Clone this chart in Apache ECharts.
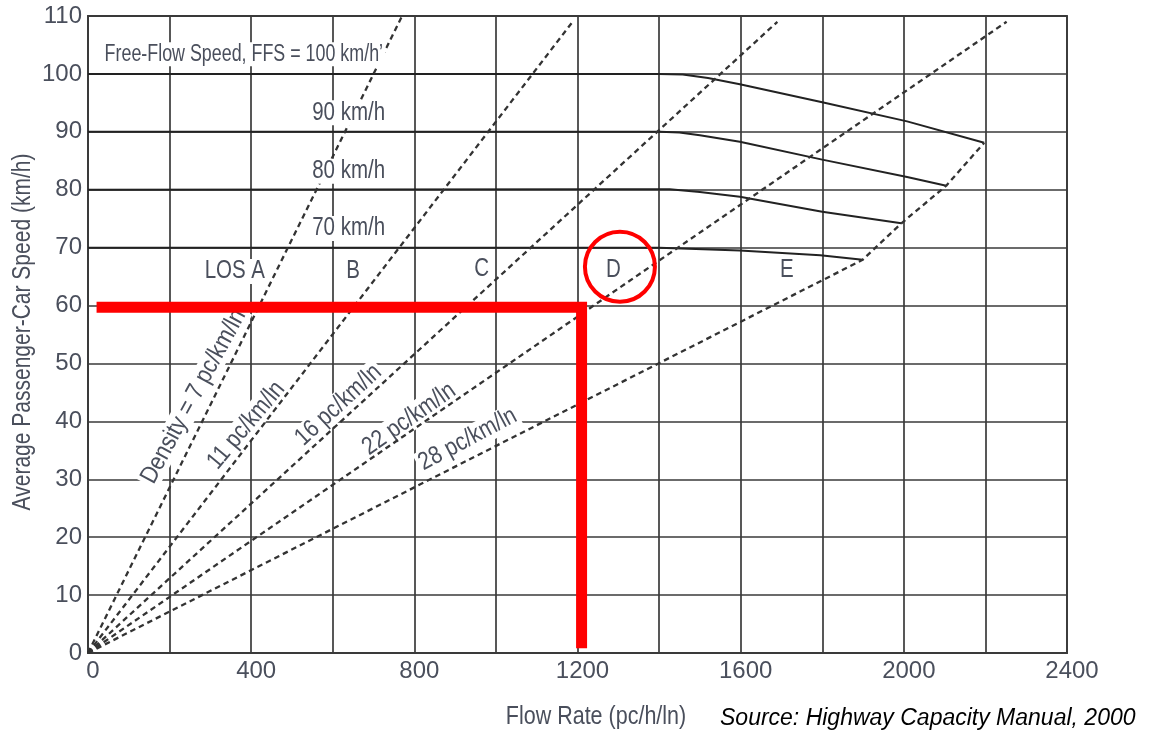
<!DOCTYPE html>
<html>
<head>
<meta charset="utf-8">
<script src="https://cdn.jsdelivr.net/npm/echarts@6/dist/echarts.min.js"></script>
<style>
  html, body { margin: 0; padding: 0; background: #fff; }
  #chart { width: 1167px; height: 734px; }
</style>
</head>
<body>
<div id="chart"></div>
<script>
// ---------- data ----------
const xTickLabels = [0, 400, 800, 1200, 1600, 2000, 2400];
const yTickLabels = [0, 10, 20, 30, 40, 50, 60, 70, 80, 90, 100, 110];

// speed-flow curves [flow, speed]
const curve100 = [[0,100],[1400,100],[1458,99.9],[1520,99.3],[1598,98.2],[1800,95.1],[2008,91.8],[2197,88.1]];
const curve90  = [[0,90],[1402,90],[1450,89.9],[1500,89.4],[1598,88.3],[1800,85.2],[2008,82.2],[2104,80.7]];
const curve80  = [[0,80],[1300,80.1],[1426,80.1],[1500,79.6],[1598,78.8],[1800,76.2],[1994,74.2]];
const curve70  = [[0,70],[1400,70],[1598,69.5],[1795,68.7],[1899,67.9]];

// density lines [flow, speed]
const density7  = [[0,0],[770,110]];
const density11 = [[0,0],[1188,109]];
const density16 = [[0,0],[1690,109]];
const density22 = [[0,0],[2252,109]];
const density28 = [[0,0],[1899,67.9],[1994,74.2],[2104,80.7],[2197,88.1]];

// red highlight (L-shape) and circle
const redPath = [[21,59.7],[1210,59.7],[1210,0.8]];
const redCircle = [[1304,66.7]];

// annotation texts and anchors (data coordinates)
const annoText  = ['Free-Flow Speed, FFS = 100 km/h\u2019','90 km/h','80 km/h','70 km/h',
                   'LOS A','B','C','D','E',
                   'Density = 7 pc/km/ln','11 pc/km/ln','16 pc/km/ln','22 pc/km/ln','28 pc/km/ln'];
const annoFlow  = [382, 639, 639, 639, 360, 650, 965, 1288, 1713, 259, 388, 614, 787, 931];
const annoSpeed = [103.4, 93.3, 83.2, 73.3, 65.9, 65.9, 66.3, 66.1, 66.1, 44.3, 39.3, 42.8, 40.4, 36.9];
const annoAngle = [0, 0, 0, 0, 0, 0, 0, 0, 0, 61.5, 50, 42.5, 35, 28];

// ---------- styling ----------
const SANS = "'Liberation Sans', Arial, sans-serif";
const TXT = '#4a4f5c';
const GRID = '#3a3a3a';
const annoFont  = [23.5, 25, 25, 25, 25, 25, 25, 25, 25, 25, 25, 25, 25, 25];
const annoScale = [0.76, 0.82, 0.82, 0.82, 0.82, 0.82, 0.82, 0.82, 0.82, 0.86, 0.84, 0.84, 0.84, 0.84];
const annoZ     = [6, 6, 6, 6, 6, 6, 6, 6, 6, 3, 3, 3, 3, 3];

const chart = echarts.init(document.getElementById('chart'), null, {renderer: 'canvas'});

function curveSeries(data) {
  return { type: 'line', data: data, symbol: 'none', z: 4, silent: true,
           lineStyle: { color: '#222', width: 2 } };
}
function densitySeries(data) {
  return { type: 'line', data: data, symbol: 'none', z: 5, silent: true,
           lineStyle: { color: '#333', width: 2.3, type: [5.5, 4] } };
}

const option = {
  animation: false,
  backgroundColor: '#fff',
  grid: { left: 88, top: 16, right: 100, bottom: 81, show: true,
          borderColor: GRID, borderWidth: 1.8, outerBoundsMode: 'none', containLabel: false },
  xAxis: {
    type: 'value', min: 0, max: 2400, interval: 200,
    axisLine: { show: true, lineStyle: { color: GRID, width: 1.8 } },
    axisTick: { show: false },
    splitLine: { show: true, lineStyle: { color: GRID, width: 1.7 } },
    axisLabel: {
      margin: 6, color: TXT, fontFamily: SANS, fontSize: 24,
      padding: [0, 0, 0, 10],
      formatter: v => xTickLabels.includes(v) ? String(v) : ''
    }
  },
  yAxis: {
    type: 'value', min: 0, max: 110, interval: 10,
    axisLine: { show: true, lineStyle: { color: GRID, width: 1.8 } },
    axisTick: { show: false },
    splitLine: { show: true, lineStyle: { color: GRID, width: 1.7 } },
    axisLabel: {
      margin: 6, color: TXT, fontFamily: SANS, fontSize: 24,
      padding: [6, 0, 0, 0],
      formatter: v => yTickLabels.includes(v) ? String(v) : ''
    }
  },
  series: [
    curveSeries(curve100), curveSeries(curve90), curveSeries(curve80), curveSeries(curve70),
    densitySeries(density7), densitySeries(density11), densitySeries(density16),
    densitySeries(density22), densitySeries(density28),
    { type: 'line', data: redPath, symbol: 'none', z: 8, silent: true,
      lineStyle: { color: '#ff0000', width: 11, cap: 'butt', join: 'miter' } },
    { type: 'scatter', data: redCircle, symbol: 'circle', symbolSize: 70, z: 8, silent: true,
      itemStyle: { color: 'rgba(0,0,0,0)', borderColor: '#ff0000', borderWidth: 4, opacity: 1 } }
  ]
};
chart.setOption(option);

// text annotations placed through the chart's own coordinate system
const graphics = annoText.map((t, i) => {
  const p = chart.convertToPixel({ gridIndex: 0 }, [annoFlow[i], annoSpeed[i]]);
  return {
    type: 'text', x: p[0], y: p[1], z: annoZ[i], silent: true,
    rotation: annoAngle[i] * Math.PI / 180, scaleX: annoScale[i],
    style: { text: t, x: 0, y: 0, align: 'center', verticalAlign: 'middle',
             fill: TXT, font: annoFont[i] + 'px ' + SANS,
             backgroundColor: '#fff', padding: [0, 3] }
  };
});
// axis titles and source note
graphics.push({
  type: 'text', x: 596, y: 717, z: 1, scaleX: 0.86,
  style: { text: 'Flow Rate (pc/h/ln)', x: 0, y: 0, align: 'center', verticalAlign: 'middle',
           fill: TXT, font: '25px ' + SANS }
});
graphics.push({
  type: 'text', x: 23, y: 332, z: 1, scaleX: 0.84, rotation: Math.PI / 2,
  style: { text: 'Average Passenger-Car Speed (km/h)', x: 0, y: 0, align: 'center', verticalAlign: 'middle',
           fill: TXT, font: '25px ' + SANS }
});
graphics.push({
  type: 'text', x: 720, y: 719, z: 1,
  style: { text: 'Source: Highway Capacity Manual, 2000', x: 0, y: 0, align: 'left', verticalAlign: 'middle',
           fill: '#000', font: 'italic 23px ' + SANS }
});
chart.setOption({ graphic: graphics });
</script>
</body>
</html>
